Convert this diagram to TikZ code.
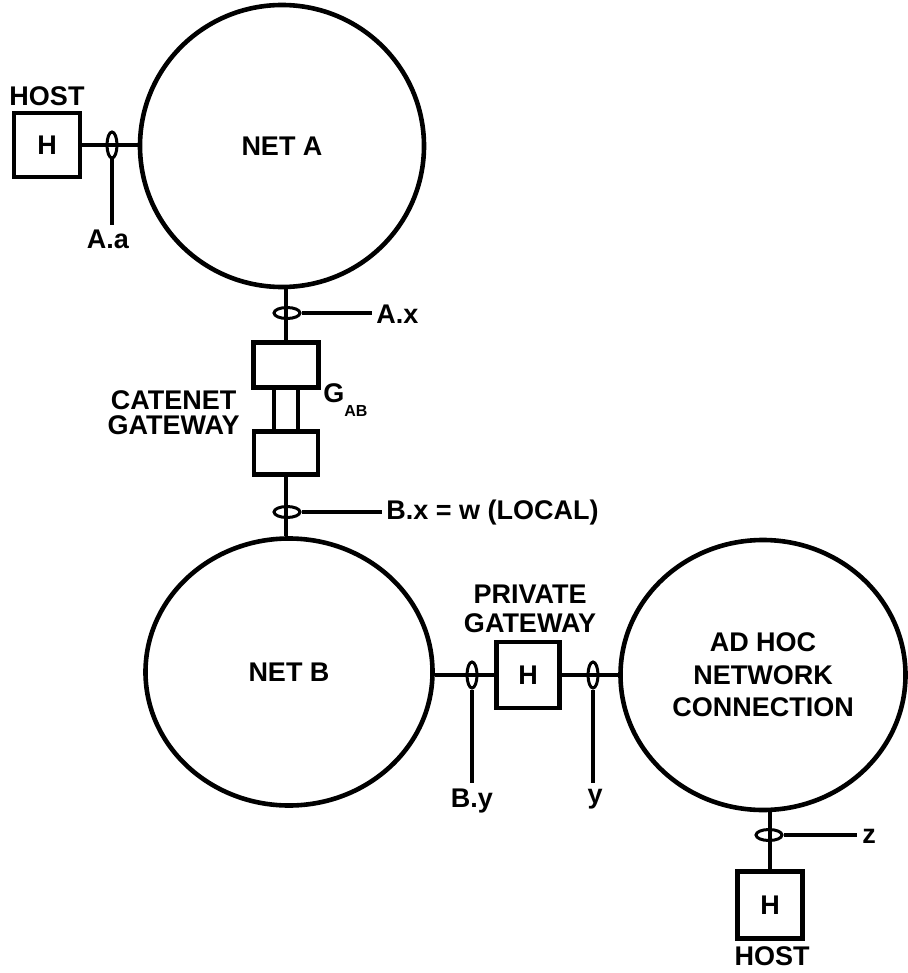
\documentclass[tikz,border=0pt]{standalone}
\usepackage{fontspec}
\setmainfont{Liberation Sans}
\usetikzlibrary{shapes.geometric}
\begin{document}
\begin{tikzpicture}[x=0.5pt,y=-0.5pt,
  txt/.style={font=\bfseries\fontsize{13.5}{14.5}\selectfont,inner sep=0pt,align=center},
  net/.style={draw,ellipse,line width=2.3pt,inner sep=0pt,txt},
  hbox/.style={draw,line width=2.1pt,inner sep=0pt,txt},
  gbox/.style={draw,line width=2.1pt,inner sep=0pt},
  conn/.style={line width=1.7pt},
  vring/.style={draw,ellipse,line width=1.5pt,minimum width=5pt,minimum height=13pt,inner sep=0pt},
  hring/.style={draw,ellipse,line width=1.5pt,minimum width=13pt,minimum height=5.5pt,inner sep=0pt}]
\useasboundingbox (0,0) rectangle (907,973);

% networks
\node[net,minimum width=142pt,minimum height=141pt] (netA) at (282,146) {NET A};
\node[net,minimum width=143.5pt,minimum height=133.5pt] (netB) at (289,672) {NET B};
\node[net,minimum width=142.5pt,minimum height=135pt,font=\bfseries\fontsize{13.5}{16.3}\selectfont] (adhoc) at (763,675) {AD HOC\\NETWORK\\CONNECTION};

% host on net A
\node[hbox,minimum width=33pt,minimum height=32pt] (hostA) at (47,145) {H};
\node[txt] (hostAlbl) at (47,96) {HOST};
\draw[conn] (hostA.east) -- (hostA.east -| netA.west);
\node[vring] (ringAa) at (112,145) {};
\coordinate (endAa) at (112,225);
\draw[conn] (ringAa.south) -- (endAa);
\node[txt,anchor=north] (lblAa) at (108,230) {A.a};

% catenet gateway
\node[gbox,minimum width=32.5pt,minimum height=22.5pt] (gtop) at (286,365) {};
\node[gbox,minimum width=32pt,minimum height=21.5pt] (gbot) at (286,453) {};
\draw[line width=2pt] ([xshift=-6pt]gtop.south) -- ([xshift=-6pt]gbot.north);
\draw[line width=2pt] ([xshift=6pt]gtop.south) -- ([xshift=6pt]gbot.north);
\draw[conn] (gtop.north) -- (gtop.north |- netA.south);
\draw[conn] (gbot.south) -- (gbot.south |- netB.north);
\node[txt,anchor=east,font=\bfseries\fontsize{13.5}{12.5}\selectfont] (catlbl) at (240,413) {CATENET\\GATEWAY};
\node[txt,anchor=west] (glbl) at (323,400) {G\raisebox{-7pt}{\fontsize{8}{8}\selectfont AB}};

\node[hring] (ringAx) at (287,313) {};
\coordinate (endAx) at (372,313);
\draw[conn] (ringAx.east) -- (endAx);
\node[txt,anchor=west] (lblAx) at (376,314) {A.x};

\node[hring] (ringBx) at (287,512) {};
\coordinate (endBx) at (382,512);
\draw[conn] (ringBx.east) -- (endBx);
\node[txt,anchor=west] (lblBx) at (386,513) {B.x = w (LOCAL)};

% private gateway
\node[hbox,minimum width=31.5pt,minimum height=33pt] (pg) at (528,675) {H};
\node[txt] (pglbl) at (530,609) {PRIVATE\\GATEWAY};
\draw[conn] (netB.east |- pg.west) -- (pg.west);
\draw[conn] (pg.east) -- (pg.east -| adhoc.west);

\node[vring] (ringBy) at (472,675) {};
\coordinate (endBy) at (472,783);
\draw[conn] (ringBy.south) -- (endBy);
\node[txt,anchor=north] (lblBy) at (472,789) {B.y};

\node[vring] (ringy) at (593,675) {};
\coordinate (endy) at (593,783);
\draw[conn] (ringy.south) -- (endy);
\node[txt,anchor=north] (lbly) at (595,789) {y};

% host on ad hoc
\node[hbox,minimum width=32.5pt,minimum height=33.5pt] (hostC) at (770,905) {H};
\node[txt] (hostClbl) at (772,956) {HOST};
\draw[conn] (hostC.north) -- (hostC.north |- adhoc.south);
\node[hring] (ringz) at (769,835) {};
\coordinate (endz) at (857,835);
\draw[conn] (ringz.east) -- (endz);
\node[txt,anchor=west] (lblz) at (862,836) {z};
\end{tikzpicture}
\end{document}
